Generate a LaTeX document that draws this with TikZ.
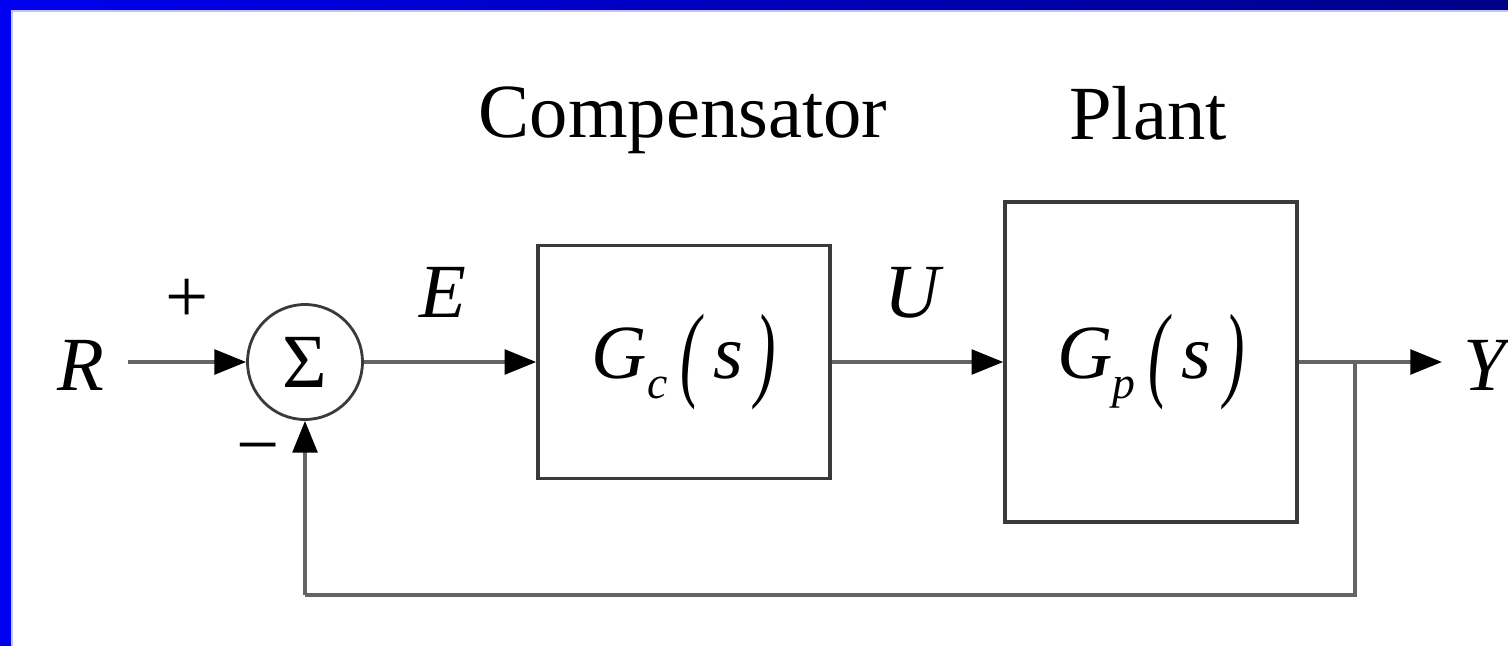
\documentclass[tikz,border=0pt]{standalone}
\usepackage{fontspec}
\setmainfont{Liberation Serif}
\usepackage{graphicx}
\usetikzlibrary{arrows.meta,positioning}
\definecolor{framblue}{HTML}{0000F0}
\definecolor{framnavy}{HTML}{000088}
\definecolor{framlight}{HTML}{C4C4F4}
\definecolor{linegray}{HTML}{646464}
\definecolor{boxgray}{HTML}{3A3A3A}

% italic symbol with a lowered small index
\newcommand{\blkidx}[1]{\raisebox{-0.27em}{\fontsize{26}{26}\selectfont\itshape #1}}
\newcommand{\tallparen}[1]{\raisebox{-0.12em}{\scalebox{0.8}[1.38]{#1}}}

\begin{document}
\begin{tikzpicture}[
  x=0.02cm, y=-0.02cm,
  font=\fontsize{43.6}{50}\selectfont,
  block/.style={draw=boxgray, line width=2pt, minimum width=5.84cm, inner sep=0pt},
  summer/.style={draw=boxgray, circle, line width=1.6pt, minimum size=2.3cm, inner sep=0pt},
  conn/.style={draw=linegray, line width=2.1pt, -{Triangle[length=18pt,width=14pt,color=black]}}
]
  \useasboundingbox (0,0) rectangle (1508,646);
  % frame
  \fill[framblue] (0,0) rectangle (11,646);
  \shade[left color=framblue, right color=framnavy] (0,0) rectangle (1508,10);
  \fill[framlight] (11,10) rectangle (1508,12);
  \fill[framlight] (11,12) rectangle (13,646);

  \node[anchor=base] (complabel) at (683,137) {Compensator};
  \node[anchor=base] (plantlabel) at (1148,139) {Plant};

  \node[anchor=base east, inner sep=0pt] (R) at (105,390) {\itshape R};
  \node[summer] (sum) at (305,362) {Σ};
  \node[anchor=base] (plus) at (187,322) {+};
  \node[anchor=base] (minus) at (258,470) {\textminus};

  \node[block, minimum height=4.66cm] (comp) at (684,362)
    {\itshape G\blkidx{c}\,\tallparen{(}\,s\,\tallparen{)}};
  \node[block, minimum height=6.4cm] (plant) at (1151,362)
    {\itshape G\blkidx{p}\,\tallparen{(}\,s\,\tallparen{)}};

  \node[anchor=base] (E) at (443,317) {\itshape E};
  \node[anchor=base] (U) at (912,317) {\itshape U};
  \node[anchor=base west, inner sep=0pt] (Y) at (1463,390) {\itshape Y};

  \coordinate (rin) at (128,362);
  \coordinate (yout) at (1442,362);
  \coordinate (split) at (1355,362);
  \coordinate (fbr) at (1355,595);
  \coordinate (fbl) at (305,595);

  \draw[conn] (rin) -- (sum);
  \draw[conn] (sum) -- (comp);
  \draw[conn] (comp) -- (plant);
  \draw[conn] (plant) -- (yout);
  \draw[linegray, line width=2.1pt] (split) -- (fbr) -- (fbl);
  \draw[conn] (fbl) -- (sum);
\end{tikzpicture}
\end{document}
